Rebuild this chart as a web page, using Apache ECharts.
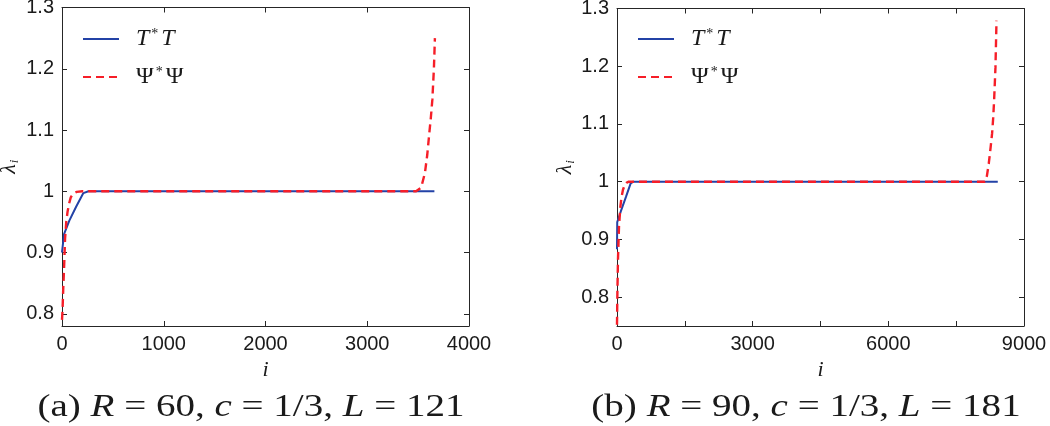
<!DOCTYPE html>
<html>
<head>
<meta charset="utf-8">
<script src="https://cdn.jsdelivr.net/npm/echarts@6/dist/echarts.min.js"></script>
<style>html,body{margin:0;padding:0;background:#fff;}#c{width:1050px;height:426px;}</style>
</head>
<body>
<div id="c"></div>
<script>
// ---- panel (a): R = 60, c = 1/3, L = 121 ----
const ttI_a = [0, 20, 72, 140, 210, 260, 3660];
const ttV_a = [0.900, 0.930, 0.952, 0.975, 0.997, 1.000, 1.000];
const psI_a = [0, 5, 12, 20, 30, 42, 55, 70, 86, 110, 145, 200, 3480, 3530, 3567, 3590, 3610, 3625, 3640, 3655, 3665];
const psV_a = [0.790, 0.805, 0.840, 0.873, 0.922, 0.950, 0.967, 0.980, 0.990, 0.996, 0.999, 1.000, 1.000, 1.006, 1.030, 1.060, 1.095, 1.120, 1.150, 1.200, 1.250];
const xTicks_a = [0, 1000, 2000, 3000, 4000];
const xLabels_a = [0, 1000, 2000, 3000, 4000];
const yTicks_a = [0.8, 0.9, 1, 1.1, 1.2, 1.3];

// ---- panel (b): R = 90, c = 1/3, L = 181 ----
const ttI_b = [0, 5, 82, 200, 302, 360, 8420];
const ttV_b = [0.883, 0.930, 0.948, 0.974, 0.997, 1.000, 1.000];
const psI_b = [0, 9, 22, 44, 75, 100, 132, 170, 207, 260, 8133, 8180, 8222, 8260, 8295, 8320, 8339, 8369, 8392];
const psV_b = [0.752, 0.810, 0.866, 0.922, 0.957, 0.973, 0.986, 0.994, 0.998, 1.000, 1.000, 1.010, 1.032, 1.058, 1.084, 1.112, 1.141, 1.198, 1.279];
const xTicks_b = [0, 1500, 3000, 4500, 6000, 7500, 9000];
const xLabels_b = [0, 3000, 6000, 9000];
const yTicks_b = [0.8, 0.9, 1, 1.1, 1.2, 1.3];

const captions = ['(a) {it|R} = 60, {it|c} = 1/3, {it|L} = 121', '(b) {it|R} = 90, {it|c} = 1/3, {it|L} = 181'];
const seriesNames = ['TT', 'PP'];

const BLUE = '#2342a6', RED = '#f61e28', AX = '#262626';
const SERIF = '"Liberation Serif", "DejaVu Serif", serif';
const SANS = '"Liberation Sans", Arial, sans-serif';

function pairs(xs, ys) { return xs.map((x, k) => [x, ys[k]]); }
function plain(v) { return String(Math.round(v * 100) / 100); }

function xAxisPair(grid, max, ticks, labels) {
  return [
    { type: 'value', gridIndex: grid, position: 'bottom', min: 0, max: max,
      axisLine: { show: true, onZero: false, lineStyle: { color: AX, width: 1 } },
      axisTick: { show: true, inside: true, length: 5, customValues: ticks, lineStyle: { color: AX } },
      axisLabel: { show: true, customValues: labels, formatter: plain, fontFamily: SANS, fontSize: 20, color: '#1a1a1a', margin: 8 },
      splitLine: { show: false },
      name: 'i', nameLocation: 'middle', nameGap: 30,
      nameTextStyle: { fontFamily: SERIF, fontStyle: 'italic', fontSize: 22, color: '#1a1a1a' } },
    { type: 'value', gridIndex: grid, position: 'top', min: 0, max: max,
      axisLine: { show: true, onZero: false, lineStyle: { color: AX, width: 1 } },
      axisTick: { show: true, inside: true, length: 5, customValues: ticks, lineStyle: { color: AX } },
      axisLabel: { show: false }, splitLine: { show: false } }
  ];
}
function yAxisPair(grid, min, ticks, gap) {
  return [
    { type: 'value', gridIndex: grid, position: 'left', min: min, max: 1.3,
      axisLine: { show: true, onZero: false, lineStyle: { color: AX, width: 1 } },
      axisTick: { show: true, inside: true, length: 5, customValues: ticks, lineStyle: { color: AX } },
      axisLabel: { show: true, customValues: ticks, formatter: plain, fontFamily: SANS, fontSize: 20, color: '#1a1a1a', margin: 8 },
      splitLine: { show: false },
      name: '{l|λ}{s|i}', nameLocation: 'middle', nameGap: gap, nameRotate: 90,
      nameTextStyle: { rich: {
        l: { fontFamily: SERIF, fontStyle: 'italic', fontSize: 22, color: '#1a1a1a', lineHeight: 24 },
        s: { fontFamily: SERIF, fontStyle: 'italic', fontSize: 13, color: '#1a1a1a', verticalAlign: 'bottom', lineHeight: 14, padding: [8, 0, 0, 1] }
      } } },
    { type: 'value', gridIndex: grid, position: 'right', min: min, max: 1.3,
      axisLine: { show: true, onZero: false, lineStyle: { color: AX, width: 1 } },
      axisTick: { show: true, inside: true, length: 5, customValues: ticks, lineStyle: { color: AX } },
      axisLabel: { show: false }, splitLine: { show: false } }
  ];
}

const legendRich = {
  g: { width: 12 },
  it: { fontFamily: SERIF, fontStyle: 'italic', fontSize: 24, color: '#1a1a1a', lineHeight: 24, padding: [0, 2, 0, 0] },
  up: { fontFamily: SERIF, fontSize: 24, color: '#1a1a1a', lineHeight: 24, padding: [0, 2, 0, 0] },
  s: { fontFamily: SERIF, fontSize: 14, color: '#1a1a1a', verticalAlign: 'top', lineHeight: 14, padding: [0, 3, 6, 0] }
};
function legendFmt(name) {
  return name === 'TT' ? '{g|}{it|T}{s|*}{it|T}' : '{g|}{up|Ψ}{s|*}{up|Ψ}';
}
function legendAt(left) {
  return { data: seriesNames, left: left, top: 27, padding: 0, orient: 'vertical', itemWidth: 36, itemHeight: 14, itemGap: 14,
    selectedMode: false, formatter: legendFmt, textStyle: { rich: legendRich },
    itemStyle: { opacity: 0 } };
}

function lineSeries(name, data, xi, yi) {
  const isT = name === 'TT';
  return { type: 'line', name: name, xAxisIndex: xi, yAxisIndex: yi, data: data,
    symbol: 'none', showSymbol: false, smooth: false, z: isT ? 2 : 3,
    lineStyle: isT ? { color: BLUE, width: 2, type: 'solid' } : { color: RED, width: 2.4, type: [8, 5] },
    itemStyle: { color: isT ? BLUE : RED } };
}

const chart = echarts.init(document.getElementById('c'), null, { renderer: 'canvas' });
chart.setOption({
  animation: false,
  backgroundColor: '#fff',
  grid: [
    { left: 62, top: 7.5, width: 407, height: 318.5, containLabel: false, outerBoundsMode: 'none' },
    { left: 617, top: 8.5, width: 407, height: 317.5, containLabel: false, outerBoundsMode: 'none' }
  ],
  xAxis: [].concat(xAxisPair(0, 4000, xTicks_a, xLabels_a), xAxisPair(1, 9000, xTicks_b, xLabels_b)),
  yAxis: [].concat(yAxisPair(0, 0.78, yTicks_a, 41), yAxisPair(1, 0.75, yTicks_b, 38)),
  legend: [legendAt(82), legendAt(637)],
  series: [
    lineSeries('TT', pairs(ttI_a, ttV_a), 0, 0),
    lineSeries('PP', pairs(psI_a, psV_a), 0, 0),
    lineSeries('TT', pairs(ttI_b, ttV_b), 2, 2),
    lineSeries('PP', pairs(psI_b, psV_b), 2, 2)
  ],
  graphic: [
    { type: 'text', x: 251, y: 408, scaleX: 1.22, style: { text: captions[0], fontFamily: SERIF, fontSize: 32, fill: '#1a1a1a',
      align: 'center', verticalAlign: 'middle', rich: { it: { fontFamily: SERIF, fontStyle: 'italic', fontSize: 32, fill: '#1a1a1a' } } } },
    { type: 'text', x: 806, y: 408, scaleX: 1.22, style: { text: captions[1], fontFamily: SERIF, fontSize: 32, fill: '#1a1a1a',
      align: 'center', verticalAlign: 'middle', rich: { it: { fontFamily: SERIF, fontStyle: 'italic', fontSize: 32, fill: '#1a1a1a' } } } }
  ]
});
</script>
</body>
</html>
